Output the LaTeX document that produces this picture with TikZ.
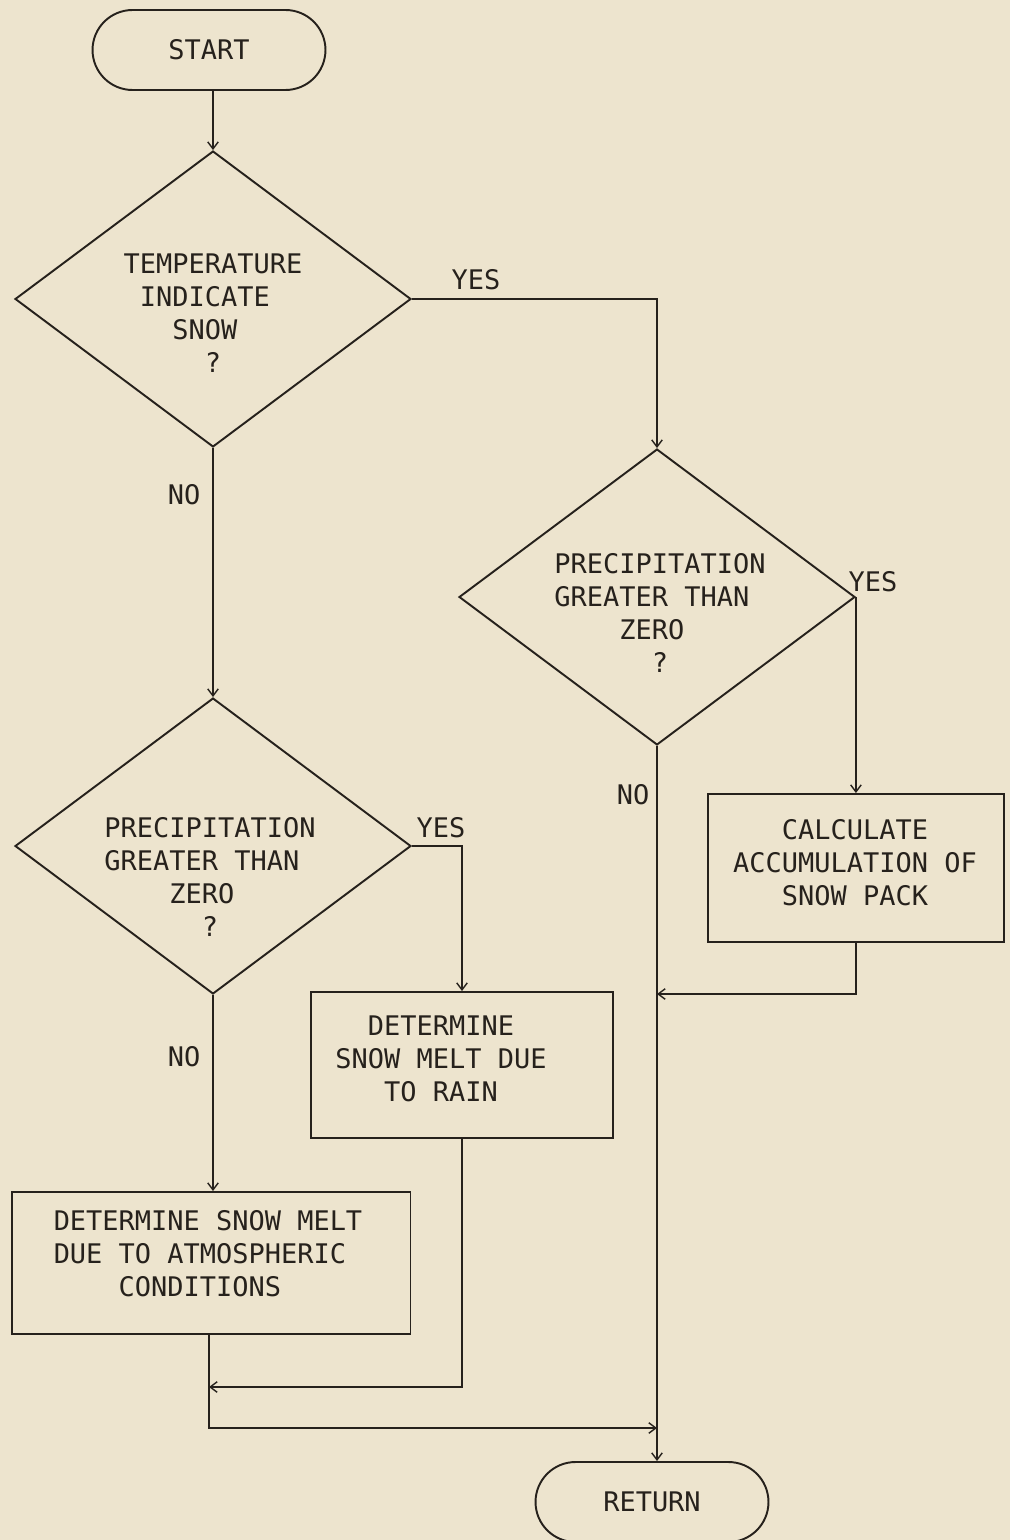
\documentclass[tikz,border=0pt]{standalone}
\usepackage{fontspec}
\usetikzlibrary{shapes.geometric,shapes.misc,arrows.meta}
\newfontfamily\plotfont{DejaVu Sans Mono}
\definecolor{paper}{RGB}{237,228,206}
\definecolor{ink}{RGB}{38,33,28}
\newcommand{\skipch}[1]{\hphantom{#1}}
\tikzset{
  flowline/.style={draw=ink, line width=0.8pt},
  flowarrow/.style={flowline, -{Straight Barb[length=4pt,width=6pt]}},
  decision/.style={diamond, draw=ink, line width=1.1pt, minimum width=7.92cm, minimum height=5.92cm, inner sep=0pt},
  process/.style={rectangle, draw=ink, line width=1.1pt, inner sep=0pt},
  terminal/.style={rounded rectangle, draw=ink, line width=1.1pt, minimum width=4.66cm, minimum height=1.6cm, inner sep=0pt},
  plottext/.style={font=\plotfont\fontsize{15.35pt}{18.7pt}\selectfont, text=ink, align=left, inner sep=0pt},
}
\begin{document}
\begin{tikzpicture}[x=0.02cm, y=-0.02cm]
  \path[use as bounding box, fill=paper] (0,0) rectangle (1010,1540);
  % inicio y primera pregunta
  \node[terminal, plottext] (start) at (209,50) {START};
  \node[decision] (d1) at (213,299) {};
  \node[plottext] (d1txt) at (213,313) {TEMPERATURE\\\skipch{0}INDICATE\\\skipch{000}SNOW\\\skipch{00000}?};
  \draw[flowarrow] (start.south -| d1.north) -- (d1.north);
  % rama de nieve
  \node[decision] (d2) at (657,597) {};
  \node[plottext] (d2txt) at (660,613) {PRECIPITATION\\GREATER THAN\\\skipch{0000}ZERO\\\skipch{000000}?};
  \node[process, minimum width=5.92cm, minimum height=2.96cm] (calc) at (856,868) {};
  \node[plottext] (calctxt) at (855,863) {\skipch{000}CALCULATE\\ACCUMULATION OF\\\skipch{000}SNOW PACK};
  \draw[flowarrow] (d1.east) -| (d2.north);
  \node[plottext] (yes1) at (476,280) {YES};
  \draw[flowarrow] (d2.east) -- (calc.north -| d2.east);
  \node[plottext] (yes2) at (873,582) {YES};
  \coordinate (jcalc) at (657,994);
  \draw[flowarrow] (calc.south -| d2.east) |- (jcalc);
  % rama sin nieve
  \node[decision] (d3) at (213,846) {};
  \node[plottext] (d3txt) at (210,877) {PRECIPITATION\\GREATER THAN\\\skipch{0000}ZERO\\\skipch{000000}?};
  \draw[flowarrow] (d1.south) -- (d3.north);
  \node[plottext] (no1) at (184,495) {NO};
  \node[process, minimum width=6.04cm, minimum height=2.92cm] (rain) at (462,1065) {};
  \node[plottext] (raintxt) at (441,1059) {\skipch{00}DETERMINE\\SNOW MELT DUE\\\skipch{000}TO RAIN};
  \draw[flowarrow] (d3.east) -| (rain.north);
  \node[plottext] (yes3) at (441,828) {YES};
  \node[process, minimum width=7.98cm, minimum height=2.84cm] (atmos) at (211,1263) {};
  \node[plottext] (atmostxt) at (208,1254) {DETERMINE SNOW MELT\\DUE TO ATMOSPHERIC\\\skipch{0000}CONDITIONS};
  \draw[flowarrow] (d3.south) -- (d3.south |- atmos.north);
  \node[plottext] (no3) at (184,1057) {NO};
  % uniones y fin
  \coordinate (jrain) at (209,1387);
  \coordinate (jbot) at (657,1428);
  \draw[flowarrow] (rain.south) |- (jrain);
  \draw[flowarrow] (atmos.south -| jrain) |- (jbot);
  \node[terminal, plottext] (ret) at (652,1502) {RETURN};
  \draw[flowarrow] (d2.south) -- (d2.south |- ret.north);
  \node[plottext] (no2) at (633,795) {NO};
\end{tikzpicture}
\end{document}
